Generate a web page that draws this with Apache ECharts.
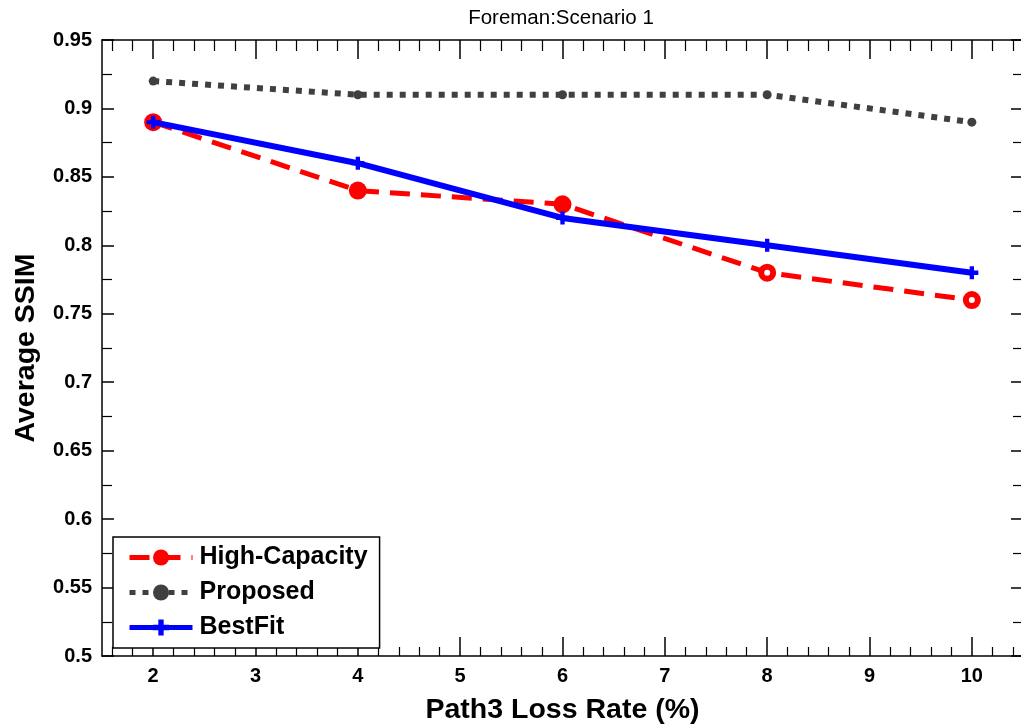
<!DOCTYPE html>
<html>
<head>
<meta charset="utf-8">
<script src="https://cdn.jsdelivr.net/npm/echarts@6/dist/echarts.min.js"></script>
<style>
html,body{margin:0;padding:0;background:#fff;}
#chart{width:1021px;height:725px;}
</style>
</head>
<body>
<div id="chart"></div>
<script>
const lossRates = [2, 4, 6, 8, 10];
const highCapacity = [0.89, 0.84, 0.83, 0.78, 0.76];
const proposed = [0.92, 0.91, 0.91, 0.91, 0.89];
const bestFit = [0.89, 0.86, 0.82, 0.80, 0.78];
const xTicks = [2, 3, 4, 5, 6, 7, 8, 9, 10];
const yMin = 0.5, yMax = 0.95, yStep = 0.05;

const FONT = "'Liberation Sans', Arial, sans-serif";
const xMinor = [];
for (let i = 16; i <= 104; i += 2) { if (i % 10 !== 0) xMinor.push(i / 10); }

const pairs = (ys) => lossRates.map((x, i) => [x, ys[i]]);
const hcData = lossRates.map((x, i) => {
  const hollow = i >= 3;
  return {
    value: [x, highCapacity[i]],
    symbolSize: hollow ? 12 : 18,
    itemStyle: hollow ? {color: '#ffffff', borderColor: '#ff0000', borderWidth: 6} : {color: '#ff0000'}
  };
});

const chart = echarts.init(document.getElementById('chart'), null, {renderer: 'canvas'});
const axisLineStyle = {show: true, lineStyle: {color: '#000', width: 1.5}};
const baseX = {type: 'value', min: 1.5, max: 10.5, splitLine: {show: false}, gridIndex: 0};
const option = {
  backgroundColor: '#ffffff',
  animation: false,
  textStyle: {fontFamily: FONT},
  title: {
    text: 'Foreman:Scenario 1', left: 556, top: 3, textAlign: 'center',
    textStyle: {fontFamily: FONT, fontSize: 20.5, fontWeight: 'normal', color: '#000'}
  },
  grid: {left: 102, top: 40, right: -2, bottom: 69, containLabel: false, outerBoundsMode: 'none'},
  legend: {
    orient: 'vertical', left: 113, top: 537,
    padding: [8, 12, 8, 14], itemGap: 10, itemWidth: 63, itemHeight: 20,
    backgroundColor: '#fff', borderColor: '#000', borderWidth: 1.5,
    lineStyle: {width: 5},
    textStyle: {fontFamily: FONT, fontSize: 25, fontWeight: 'bold', color: '#000', padding: [0, 0, 0, 2]},
    data: ['High-Capacity', 'Proposed', 'BestFit']
  },
  xAxis: [
    Object.assign({}, baseX, {
      position: 'bottom',
      name: 'Path3 Loss Rate (%)', nameLocation: 'middle', nameGap: 40,
      nameTextStyle: {fontFamily: FONT, fontSize: 28.5, fontWeight: 'bold', color: '#000'},
      axisLine: axisLineStyle,
      axisTick: {show: true, inside: true, length: 19, customValues: xTicks, lineStyle: {color: '#000', width: 1.5}},
      axisLabel: {show: true, customValues: xTicks, margin: 10, fontFamily: FONT, fontSize: 20, fontWeight: 'bold', color: '#000'}
    }),
    Object.assign({}, baseX, {
      position: 'top',
      axisLine: axisLineStyle,
      axisTick: {show: true, inside: true, length: 19, customValues: xTicks, lineStyle: {color: '#000', width: 1.5}},
      axisLabel: {show: false}
    }),
    Object.assign({}, baseX, {
      position: 'bottom',
      axisLine: {show: false},
      axisTick: {show: true, inside: true, length: 9, customValues: xMinor, lineStyle: {color: '#000', width: 1.2}},
      axisLabel: {show: false}
    }),
    Object.assign({}, baseX, {
      position: 'top',
      axisLine: {show: false},
      axisTick: {show: true, inside: true, length: 11, customValues: xMinor, lineStyle: {color: '#000', width: 1.2}},
      axisLabel: {show: false}
    })
  ],
  yAxis: [
    {
      type: 'value', position: 'left', min: yMin, max: yMax, interval: yStep,
      name: 'Average SSIM', nameLocation: 'middle', nameGap: 61,
      nameTextStyle: {fontFamily: FONT, fontSize: 28.5, fontWeight: 'bold', color: '#000'},
      axisLine: axisLineStyle,
      splitLine: {show: false},
      axisTick: {show: true, inside: true, length: 12, lineStyle: {color: '#000', width: 1.5}},
      minorTick: {show: true, splitNumber: 2, length: 10, lineStyle: {color: '#000', width: 1.2}},
      axisLabel: {margin: 10, fontFamily: FONT, fontSize: 20, fontWeight: 'bold', color: '#000',
        formatter: (v) => String(+v.toFixed(2))}
    },
    {
      type: 'value', position: 'right', min: yMin, max: yMax, interval: yStep,
      axisLine: axisLineStyle,
      splitLine: {show: false},
      axisTick: {show: true, inside: true, length: 12, lineStyle: {color: '#000', width: 1.5}},
      minorTick: {show: true, splitNumber: 2, length: 10, lineStyle: {color: '#000', width: 1.2}},
      axisLabel: {show: false}
    }
  ],
  series: [
    {
      name: 'High-Capacity', type: 'line', xAxisIndex: 0, yAxisIndex: 0,
      data: hcData, symbol: 'circle', symbolSize: 18,
      itemStyle: {color: '#ff0000'},
      lineStyle: {color: '#ff0000', width: 5, type: [20, 11], cap: 'butt'},
      z: 2
    },
    {
      name: 'Proposed', type: 'line', xAxisIndex: 0, yAxisIndex: 0,
      data: pairs(proposed), symbol: 'circle', symbolSize: 9,
      itemStyle: {color: '#404040'},
      lineStyle: {color: '#404040', width: 6, type: [6, 7], cap: 'butt'},
      z: 3
    },
    {
      name: 'BestFit', type: 'line', xAxisIndex: 0, yAxisIndex: 0,
      data: pairs(bestFit),
      symbol: 'path://M4,0H8V4H12V8H8V12H4V8H0V4H4Z', symbolSize: 13,
      itemStyle: {color: '#0000ff'},
      lineStyle: {color: '#0000ff', width: 6},
      z: 4
    }
  ]
};
chart.setOption(option);
</script>
</body>
</html>
